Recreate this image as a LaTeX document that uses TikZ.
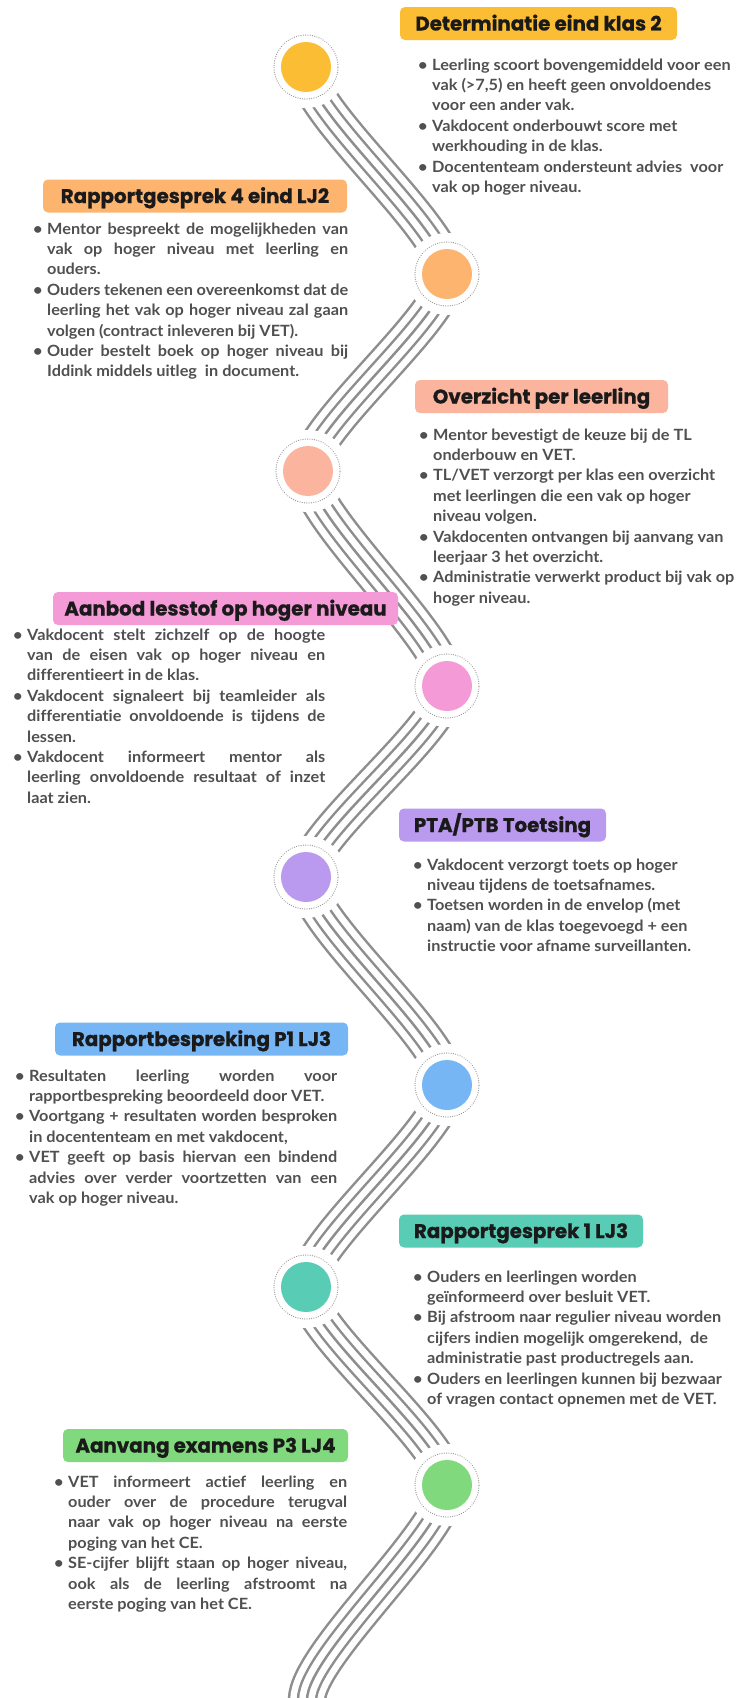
\documentclass[tikz,border=0pt]{standalone}
\usepackage{fontspec}
\setmainfont{Lato}[FakeStretch=1.05, Ligatures=NoCommon]
\newfontfamily\hfont{Poppins}[BoldFeatures={FakeBold=0.8}]
\definecolor{txt}{HTML}{505050}
\definecolor{htxt}{HTML}{1A1A1A}
\definecolor{band}{HTML}{8E8E8E}
\definecolor{ringc}{HTML}{9A9A9A}
\definecolor{cYel}{HTML}{FBBD33}
\definecolor{cOra}{HTML}{FDB46F}
\definecolor{cSal}{HTML}{FBB49E}
\definecolor{cPnk}{HTML}{F49AD6}
\definecolor{cPur}{HTML}{B99AEE}
\definecolor{cBlu}{HTML}{76B6F5}
\definecolor{cTea}{HTML}{58CCB5}
\definecolor{cGrn}{HTML}{80D97C}
\newlength\bi \setlength\bi{15pt}
\newlength\jw
\newcommand\bul[1]{\makebox[\bi][l]{\hspace{1pt}\textbullet}#1}
\newcommand\cnt[1]{\hspace*{\bi}#1}
\newcommand\jl[1]{\hbox to \jw{#1}}
\newcommand\blk[2]{\setlength\jw{#1}\parbox[t]{420pt}{\raggedright\baselineskip=20.4pt\lineskiplimit=-20pt #2}}
\tikzset{
  head/.style={fill=#1, rounded corners=5pt, minimum height=33pt, inner xsep=0pt,
    text height=14pt, text depth=0pt, text=htxt, font=\hfont\bfseries\fontsize{19.8}{24}\selectfont},
  body/.style={anchor=base west, inner sep=0pt, text=txt, font=\fontsize{15.5}{20.4}\selectfont\bfseries},
  dot/.style={circle, fill=#1, minimum size=50pt, inner sep=0pt},
  ring/.style={draw=ringc, line width=1.2pt, dash pattern=on 0.1pt off 2.2pt, line cap=round},
}
\begin{document}
\begin{tikzpicture}[x=1pt, y=-1pt]
\useasboundingbox (0,0) rectangle (739,1698);
\fill[white] (0,0) rectangle (739,1698);
% path points
\coordinate (p1) at (306,67);
\coordinate (p2) at (447,274);
\coordinate (p3) at (308,471);
\coordinate (p4) at (447,686);
\coordinate (p5) at (306,877);
\coordinate (p6) at (447,1085);
\coordinate (p7) at (306,1287);
\coordinate (p8) at (447,1485);
\coordinate (p9) at (307,1700);
\coordinate (p10) at (307,1740);
\def\bandpath{(p1) .. controls +(0,45) and +(0,-45) .. (p2)
  .. controls +(0,43) and +(0,-43) .. (p3)
  .. controls +(0,47) and +(0,-47) .. (p4)
  .. controls +(0,42) and +(0,-42) .. (p5)
  .. controls +(0,46) and +(0,-46) .. (p6)
  .. controls +(0,44) and +(0,-44) .. (p7)
  .. controls +(0,44) and +(0,-44) .. (p8)
  .. controls +(0,46) and +(0,-46) .. (p9) -- (p10)}
\begin{scope}
\clip (0,0) rectangle (739,1698);
\foreach \w/\c in {38.5/band, 33.5/white, 20.5/band, 15.5/white, 2.5/band}
  \draw[line width=\w pt, color=\c] \bandpath;
\end{scope}
% masks, rings and dots
\foreach \p/\c in {p1/cYel, p2/cOra, p3/cSal, p4/cPnk, p5/cPur, p6/cBlu, p7/cTea, p8/cGrn}{
  \fill[white] (\p) circle[radius=41pt];
  \draw[ring] (\p) circle[radius=32pt];
  \node[dot=\c] (d\p) at (\p) {};
}
% headings
\node[head=cYel, minimum width=277pt] (h1) at (538.5,23.5) {Determinatie eind klas 2};
\node[head=cOra, minimum width=304pt] (h2) at (195,196) {Rapportgesprek 4 eind LJ2};
\node[head=cSal, minimum width=253pt] (h3) at (541.5,396.5) {Overzicht per leerling};
\node[head=cPnk, minimum width=345pt] (h4) at (225.5,608.5) {Aanbod lesstof op hoger niveau};
\node[head=cPur, minimum width=207pt] (h5) at (502.5,825) {PTA/PTB Toetsing};
\node[head=cBlu, minimum width=293pt] (h6) at (201.5,1039) {Rapportbespreking P1 LJ3};
\node[head=cTea, minimum width=244pt] (h7) at (521,1231) {Rapportgesprek 1 LJ3};
\node[head=cGrn, minimum width=285pt] (h8) at (205.5,1445.5) {Aanvang examens P3 LJ4};
% text blocks
\node[body] (t1) at (417,70) {\blk{300pt}{%
\bul{Leerling scoort bovengemiddeld voor een}\\
\cnt{vak (>7,5) en heeft geen onvoldoendes}\\
\cnt{voor een ander vak.}\\
\bul{Vakdocent onderbouwt score met}\\
\cnt{werkhouding in de klas.}\\
\bul{Docententeam ondersteunt advies\ \ voor}\\
\cnt{vak op hoger niveau.}}};
\node[body] (t2) at (32,234) {\blk{301pt}{%
\bul{\jl{Mentor bespreekt de mogelijkheden van}}\\
\cnt{\jl{vak op hoger niveau met leerling en}}\\
\cnt{ouders.}\\
\bul{\jl{Ouders tekenen een overeenkomst dat de}}\\
\cnt{\jl{leerling het vak op hoger niveau zal gaan}}\\
\cnt{volgen (contract inleveren bij VET).}\\
\bul{\jl{Ouder bestelt boek op hoger niveau bij}}\\
\cnt{Iddink middels uitleg\ \ in document.}}};
\node[body] (t3) at (418,440) {\blk{300pt}{%
\bul{Mentor bevestigt de keuze bij de TL}\\
\cnt{onderbouw en VET.}\\
\bul{TL/VET verzorgt per klas een overzicht}\\
\cnt{met leerlingen die een vak op hoger}\\
\cnt{niveau volgen.}\\
\bul{Vakdocenten ontvangen bij aanvang van}\\
\cnt{leerjaar 3 het overzicht.}\\
\bul{Administratie verwerkt product bij vak op}\\
\cnt{hoger niveau.}}};
\node[body] (t4) at (12,640) {\blk{298pt}{%
\bul{\jl{Vakdocent stelt zichzelf op de hoogte}}\\
\cnt{\jl{van de eisen vak op hoger niveau en}}\\
\cnt{differentieert in de klas.}\\
\bul{\jl{Vakdocent signaleert bij teamleider als}}\\
\cnt{\jl{differentiatie onvoldoende is tijdens de}}\\
\cnt{lessen.}\\
\bul{\jl{Vakdocent informeert mentor als}}\\
\cnt{\jl{leerling onvoldoende resultaat of inzet}}\\
\cnt{laat zien.}}};
\node[body] (t5) at (412,870) {\blk{300pt}{%
\bul{Vakdocent verzorgt toets op hoger}\\
\cnt{niveau tijdens de toetsafnames.}\\
\bul{Toetsen worden in de envelop (met}\\
\cnt{naam) van de klas toegevoegd + een}\\
\cnt{instructie voor afname surveillanten.}}};
\node[body] (t6) at (14,1081) {\blk{308pt}{%
\bul{\jl{Resultaten leerling worden voor}}\\
\cnt{rapportbespreking beoordeeld door VET.}\\
\bul{\jl{Voortgang + resultaten worden besproken}}\\
\cnt{in docententeam en met vakdocent,}\\
\bul{\jl{VET geeft op basis hiervan een bindend}}\\
\cnt{\jl{advies over verder voortzetten van een}}\\
\cnt{vak op hoger niveau.}}};
\node[body] (t7) at (412,1282) {\blk{310pt}{%
\bul{Ouders en leerlingen worden}\\
\cnt{geïnformeerd over besluit VET.}\\
\bul{Bij afstroom naar regulier niveau worden}\\
\cnt{cijfers indien mogelijk omgerekend,\ \ de}\\
\cnt{administratie past productregels aan.}\\
\bul{Ouders en leerlingen kunnen bij bezwaar}\\
\cnt{of vragen contact opnemen met de VET.}}};
\node[body] (t8) at (53,1487) {\blk{279pt}{%
\bul{\jl{VET informeert actief leerling en}}\\
\cnt{\jl{ouder over de procedure terugval}}\\
\cnt{\jl{naar vak op hoger niveau na eerste}}\\
\cnt{poging van het CE.}\\
\bul{\jl{SE-cijfer blijft staan op hoger niveau,}}\\
\cnt{\jl{ook als de leerling afstroomt na}}\\
\cnt{eerste poging van het CE.}}};
\end{tikzpicture}
\end{document}
